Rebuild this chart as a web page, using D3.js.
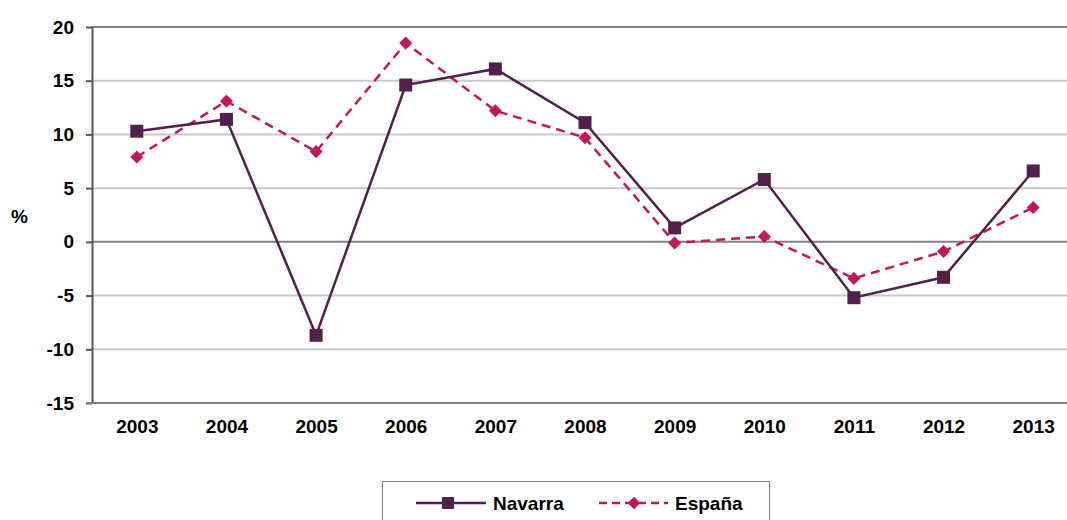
<!DOCTYPE html>
<html>
<head>
<meta charset="utf-8">
<script src="https://cdn.jsdelivr.net/npm/d3@7"></script>
<style>
  body { margin: 0; background: #fff; }
  text { font-family: "Liberation Sans", Arial, sans-serif; font-weight: bold; fill: #000; }
</style>
</head>
<body>
<div id="chart"></div>
<script>
// chart data
const years = ["2003","2004","2005","2006","2007","2008","2009","2010","2011","2012","2013"];
const navarra = [10.3, 11.4, -8.7, 14.6, 16.1, 11.1, 1.3, 5.8, -5.2, -3.3, 6.6];
const espana = [7.9, 13.1, 8.4, 18.5, 12.2, 9.7, -0.1, 0.5, -3.4, -0.9, 3.2];
const yTicks = [20, 15, 10, 5, 0, -5, -10, -15];

const width = 1067;
const height = 520;
const margin = {left: 92, right: -11, top: 27, bottom: 117};

const svg = d3.select("#chart")
  .append("svg")
  .attr("width", width)
  .attr("height", height);

// scales
const xScale = d3.scalePoint()
  .domain(years)
  .range([margin.left, width - margin.right])
  .padding(0.5);

const yScale = d3.scaleLinear()
  .domain([-15, 20])
  .range([height - margin.bottom, margin.top]);

// gridlines
svg.append("g")
  .selectAll("line")
  .data(yTicks)
  .enter()
  .append("line")
    .attr("x1", margin.left)
    .attr("x2", width)
    .attr("y1", d => yScale(d))
    .attr("y2", d => yScale(d))
    .attr("stroke", d => (d === 0 || d === 20) ? "#808080" : "#c8c8c8")
    .attr("stroke-width", 2);

// y axis (hyphen minus like the original)
const yAxis = svg.append("g")
  .attr("transform", `translate(${margin.left},0)`)
  .call(d3.axisLeft(yScale).tickValues(yTicks).tickSize(6).tickPadding(12).tickSizeOuter(0)
    .tickFormat(d => String(d)));
yAxis.select(".domain").attr("stroke", "#555").attr("stroke-width", 2);
yAxis.selectAll(".tick line").attr("stroke", "#555").attr("stroke-width", 2);
yAxis.selectAll("text").attr("font-size", "19px").attr("font-family", null);

// x axis
const xAxis = svg.append("g")
  .attr("transform", `translate(0,${yScale(-15)})`)
  .call(d3.axisBottom(xScale).tickSize(0).tickPadding(17));
xAxis.select(".domain").remove();
svg.append("line")
  .attr("x1", margin.left - 6).attr("x2", width)
  .attr("y1", yScale(-15)).attr("y2", yScale(-15))
  .attr("stroke", "#808080").attr("stroke-width", 2);
xAxis.selectAll("text").attr("font-size", "19px").attr("font-family", null);

// y label
svg.append("text")
  .attr("x", 11)
  .attr("y", 223)
  .attr("font-size", "19px")
  .text("%");

const navColor = "#51214c";
const espColor = "#c2185b";

const line = d3.line()
  .x((d, i) => xScale(years[i]))
  .y(d => yScale(d));

// España series
svg.append("path")
  .datum(espana)
  .attr("fill", "none")
  .attr("stroke", espColor)
  .attr("stroke-width", 2.5)
  .attr("stroke-dasharray", "9,6")
  .attr("d", line);

svg.selectAll(".esp")
  .data(espana)
  .enter()
  .append("path")
    .attr("class", "esp")
    .attr("transform", (d, i) => `translate(${xScale(years[i])},${yScale(d)}) rotate(45)`)
    .attr("d", d3.symbol(d3.symbolSquare, 85))
    .attr("fill", espColor);

// Navarra series
svg.append("path")
  .datum(navarra)
  .attr("fill", "none")
  .attr("stroke", navColor)
  .attr("stroke-width", 2.5)
  .attr("d", line);

svg.selectAll(".nav")
  .data(navarra)
  .enter()
  .append("rect")
    .attr("class", "nav")
    .attr("x", (d, i) => xScale(years[i]) - 6.5)
    .attr("y", d => yScale(d) - 6.5)
    .attr("width", 13)
    .attr("height", 13)
    .attr("fill", navColor);

// legend
const legend = svg.append("g");
legend.append("rect")
  .attr("x", 382.5).attr("y", 481.5)
  .attr("width", 387).attr("height", 50)
  .attr("fill", "#fff")
  .attr("stroke", "#808080")
  .attr("stroke-width", 1);

legend.append("line")
  .attr("x1", 416).attr("x2", 486).attr("y1", 503).attr("y2", 503)
  .attr("stroke", navColor).attr("stroke-width", 2.5);
legend.append("rect")
  .attr("x", 442).attr("y", 497).attr("width", 12).attr("height", 12)
  .attr("fill", navColor);
legend.append("text")
  .attr("x", 493).attr("y", 510).attr("font-size", "19px")
  .text("Navarra");

legend.append("line")
  .attr("x1", 599).attr("x2", 668).attr("y1", 503).attr("y2", 503)
  .attr("stroke", espColor).attr("stroke-width", 2.5)
  .attr("stroke-dasharray", "8,5");
legend.append("path")
  .attr("transform", "translate(634,503) rotate(45)")
  .attr("d", d3.symbol(d3.symbolSquare, 80))
  .attr("fill", espColor);
legend.append("text")
  .attr("x", 675).attr("y", 510).attr("font-size", "19px")
  .text("España");
</script>
</body>
</html>
